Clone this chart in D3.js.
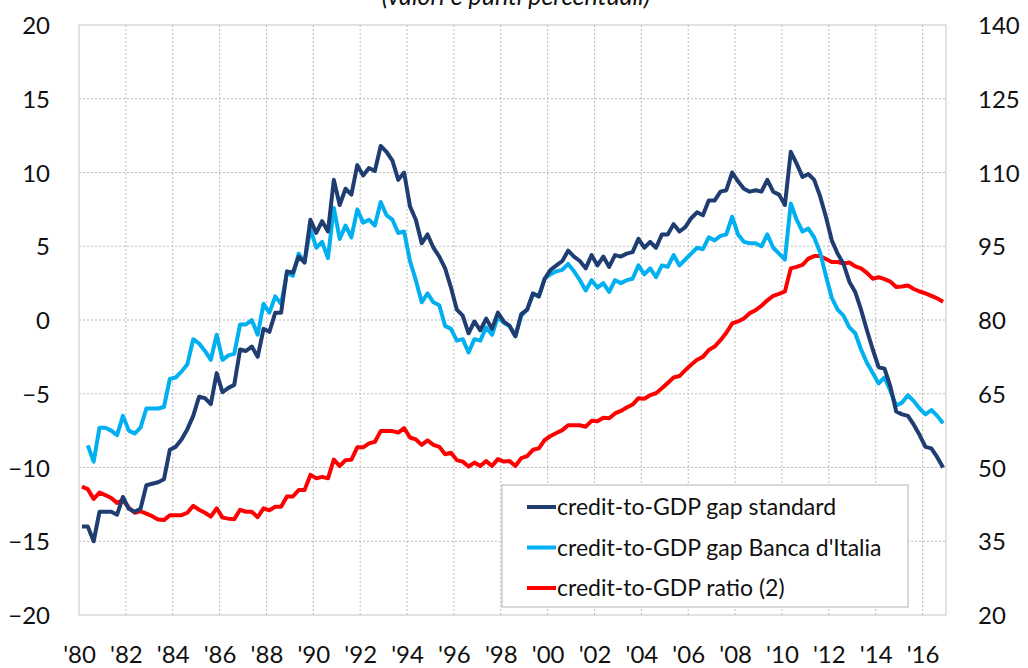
<!DOCTYPE html>
<meta charset="utf-8">
<script src="https://d3js.org/d3.v7.min.js"></script>
<style>
  body { margin: 0; background: #fff; }
  text { font-family: Lato, "Open Sans", sans-serif; fill: #111; }
</style>
<div id="chart"></div>
<script>
// quarterly data, first quarter = 1980Q1
const startYear = 1980

// credit-to-GDP gap, standard (left axis)
const gapStandard = [
  -14.0, -14.0, -15.0, -13.0, -13.0, -13.0, -13.2, -12.0, -12.8, -13.0,
  -12.8, -11.2, -11.1, -11.0, -10.8, -8.8, -8.6, -8.1, -7.4, -6.5,
  -5.2, -5.3, -5.7, -3.6, -4.9, -4.6, -4.4, -2.0, -2.1, -1.8,
  -2.5, -0.6, -0.8, 0.5, 0.5, 3.3, 3.2, 4.3, 3.9, 6.8,
  5.9, 6.7, 6.0, 9.5, 7.8, 8.9, 8.5, 10.5, 9.8, 10.3,
  10.1, 11.8, 11.4, 10.8, 9.5, 10.0, 7.7, 6.8, 5.2, 5.8,
  4.9, 4.3, 3.5, 2.2, 0.7, 0.3, -0.9, -0.1, -0.7, 0.1,
  -0.6, 0.5, -0.1, -0.4, -1.1, 0.4, 0.7, 1.8, 1.6, 2.8,
  3.4, 3.7, 4.0, 4.7, 4.3, 4.0, 3.5, 4.4, 3.7, 4.3,
  3.6, 4.4, 4.3, 4.5, 4.6, 5.5, 4.9, 5.3, 4.9, 5.8,
  5.8, 6.5, 6.0, 6.3, 6.9, 7.3, 7.1, 8.1, 8.1, 8.7,
  8.8, 10.0, 9.4, 8.9, 8.7, 8.8, 8.7, 9.5, 8.7, 8.5,
  7.8, 11.4, 10.6, 9.7, 9.9, 9.5, 8.4, 7.0, 5.4, 4.5,
  3.8, 2.6, 1.9, 0.7, -0.7, -2.0, -3.2, -3.3, -4.5, -6.2,
  -6.4, -6.5, -7.1, -7.8, -8.6, -8.7, -9.3, -10.0
]

// credit-to-GDP gap, Banca d'Italia (left axis)
const gapBdI = [
  null, -8.5, -9.6, -7.3, -7.3, -7.5, -7.8, -6.5, -7.5, -7.7,
  -7.3, -6.0, -6.0, -6.0, -5.9, -4.0, -3.9, -3.5, -3.0, -1.3,
  -1.6, -2.1, -2.7, -1.0, -2.7, -2.4, -2.3, -0.3, -0.3, 0.0,
  -1.0, 1.1, 0.5, 1.6, 1.1, 3.2, 3.0, 4.5, 3.9, 6.2,
  4.9, 5.3, 4.2, 7.6, 5.5, 6.4, 5.6, 7.5, 6.6, 6.8,
  6.4, 8.0, 7.1, 6.8, 5.9, 6.0, 4.0, 2.7, 1.2, 1.8,
  1.2, 1.0, -0.4, -0.6, -1.4, -1.3, -2.2, -1.3, -1.4, -0.5,
  -1.0, 0.2, -0.2, -0.4, -1.1, 0.3, 0.7, 1.8, 1.6, 2.8,
  3.1, 3.3, 3.4, 3.8, 3.3, 2.7, 2.0, 2.7, 2.2, 2.5,
  1.9, 2.7, 2.5, 2.7, 2.8, 3.7, 3.1, 3.5, 2.9, 3.7,
  3.6, 4.4, 3.7, 4.1, 4.5, 4.9, 4.8, 5.6, 5.4, 5.7,
  5.8, 7.0, 5.8, 5.3, 5.2, 5.2, 5.0, 5.8, 4.9, 4.5,
  4.1, 7.9, 6.8, 6.0, 6.2, 5.6, 4.6, 3.0, 1.5, 0.7,
  0.3, -0.5, -0.9, -2.0, -2.9, -3.6, -4.3, -3.9, -4.8, -5.8,
  -5.6, -5.1, -5.5, -6.0, -6.4, -6.1, -6.5, -7.0
]

// credit-to-GDP ratio (right axis)
const creditRatio = [
  46.1, 45.6, 43.6, 44.9, 44.4, 43.8, 42.8, 43.4, 41.8, 40.8,
  41.1, 40.6, 40.1, 39.4, 39.3, 40.3, 40.3, 40.3, 40.8, 42.2,
  41.4, 40.8, 40.0, 41.7, 39.8, 39.6, 39.5, 41.4, 41.0, 41.0,
  39.9, 41.7, 41.3, 42.0, 42.0, 44.1, 44.1, 45.4, 45.4, 48.5,
  47.8, 48.1, 47.8, 51.6, 50.3, 51.5, 51.6, 54.1, 54.1, 54.9,
  55.2, 57.4, 57.4, 57.4, 57.1, 58.0, 56.1, 55.7, 54.6, 55.5,
  54.6, 54.2, 52.7, 53.0, 51.5, 51.2, 50.2, 51.0, 50.3, 51.3,
  50.3, 51.7, 51.2, 51.3, 50.3, 51.9, 52.3, 53.6, 53.9, 55.6,
  56.4, 57.0, 57.6, 58.6, 58.6, 58.6, 58.3, 59.5, 59.4, 60.1,
  60.0, 61.0, 61.5, 62.2, 62.8, 64.1, 64.0, 64.7, 65.1, 66.1,
  67.2, 68.3, 68.6, 69.8, 70.9, 71.9, 72.5, 73.9, 74.6, 75.9,
  77.4, 79.3, 79.7, 80.3, 81.4, 82.0, 82.9, 84.0, 84.9, 85.3,
  85.8, 90.5, 90.8, 91.2, 92.5, 93.0, 93.0, 92.4, 91.8, 91.8,
  91.5, 91.7, 90.9, 90.5, 89.6, 88.4, 88.7, 88.3, 87.8, 86.7,
  86.8, 87.0, 86.3, 85.8, 85.4, 84.9, 84.4, 83.7
]

const yearTicks = d3.range(1980, 2017, 2)
const leftTicks = [-20, -15, -10, -5, 0, 5, 10, 15, 20]
const rightTicks = [20, 35, 50, 65, 80, 95, 110, 125, 140]

const seriesNames = ["credit-to-GDP gap standard", "credit-to-GDP gap Banca d'Italia", "credit-to-GDP ratio (2)"]
const seriesColors = ["#1f3d70", "#00b0f0", "#ff0000"]

const W = 1028, H = 668
const plotL = 79, plotR = 946, plotT = 25, plotB = 615

const svg = d3.select("#chart").append("svg")
    .attr("width", W)
    .attr("height", H)

const x = d3.scaleLinear().domain([1980, 2017]).range([plotL, plotR])
const yL = d3.scaleLinear().domain([-20, 20]).range([plotB, plotT])
const yR = d3.scaleLinear().domain([20, 140]).range([plotB, plotT])

// date of each quarter (middle of the quarter)
const qDate = i => startYear + (i + 0.5) / 4

// title, cut off at the top like in the source
svg.append("text")
    .attr("x", 516).attr("y", 5)
    .attr("text-anchor", "middle")
    .style("font-style", "italic")
    .style("font-size", "25px")
    .text("(valori e punti percentuali)")

// grid
const grid = svg.append("g")
grid.selectAll(".hg").data(leftTicks.slice(1, -1)).enter().append("line")
    .attr("x1", plotL).attr("x2", plotR)
    .attr("y1", d => yL(d)).attr("y2", d => yL(d))
    .attr("stroke", "#bdbdbd").attr("stroke-width", 1)
    .attr("stroke-dasharray", "2,2")
grid.selectAll(".vg").data(yearTicks.slice(1)).enter().append("line")
    .attr("x1", d => x(d)).attr("x2", d => x(d))
    .attr("y1", plotT).attr("y2", plotB)
    .attr("stroke", "#bdbdbd").attr("stroke-width", 1)
    .attr("stroke-dasharray", "2,2")
svg.append("rect")
    .attr("x", plotL).attr("y", plotT)
    .attr("width", plotR - plotL).attr("height", plotB - plotT)
    .attr("fill", "none").attr("stroke", "#cfcfcf").attr("stroke-width", 1.2)

// axes (labels only)
const axL = svg.append("g").attr("transform", "translate(" + plotL + ",0)")
    .call(d3.axisLeft(yL).tickValues(leftTicks).tickSize(0).tickPadding(29))
const axR = svg.append("g").attr("transform", "translate(" + plotR + ",0)")
    .call(d3.axisRight(yR).tickValues(rightTicks).tickSize(0).tickPadding(32))
const axB = svg.append("g").attr("transform", "translate(0," + plotB + ")")
    .call(d3.axisBottom(x).tickValues(yearTicks).tickSize(0).tickPadding(31)
        .tickFormat(d => "'" + String(d).slice(2)))
;[axL, axR, axB].forEach(a => {
    a.select(".domain").remove()
    a.selectAll("text").style("font-size", "24px").style("font-family", "Lato, sans-serif").attr("fill", "#111")
})
axL.selectAll("text").attr("dy", "0.36em")
axR.selectAll("text").attr("dy", "0.36em")

// lines
const lineL = d3.line()
    .defined(d => d != null)
    .x((d, i) => x(qDate(i)))
    .y(d => yL(d))
const lineR = d3.line()
    .defined(d => d != null)
    .x((d, i) => x(qDate(i)))
    .y(d => yR(d))

svg.append("path").datum(creditRatio)
    .attr("d", lineR).attr("fill", "none")
    .attr("stroke", seriesColors[2]).attr("stroke-width", 4)
    .attr("stroke-linejoin", "round")
svg.append("path").datum(gapBdI)
    .attr("d", lineL).attr("fill", "none")
    .attr("stroke", seriesColors[1]).attr("stroke-width", 4)
    .attr("stroke-linejoin", "round")
svg.append("path").datum(gapStandard)
    .attr("d", lineL).attr("fill", "none")
    .attr("stroke", seriesColors[0]).attr("stroke-width", 4)
    .attr("stroke-linejoin", "round")

// legend
const lg = svg.append("g").attr("transform", "translate(502,485)")
lg.append("rect")
    .attr("width", 406).attr("height", 122)
    .attr("fill", "#fff").attr("stroke", "#bfbfbf").attr("stroke-width", 1.2)
seriesNames.forEach((name, i) => {
    const yy = 22 + i * 40.5
    lg.append("line")
        .attr("x1", 25).attr("x2", 54)
        .attr("y1", yy).attr("y2", yy)
        .attr("stroke", seriesColors[i]).attr("stroke-width", 4)
    lg.append("text")
        .attr("x", 55).attr("y", yy).attr("dy", "0.35em")
        .style("font-size", "23px")
        .text(name)
})
</script>
